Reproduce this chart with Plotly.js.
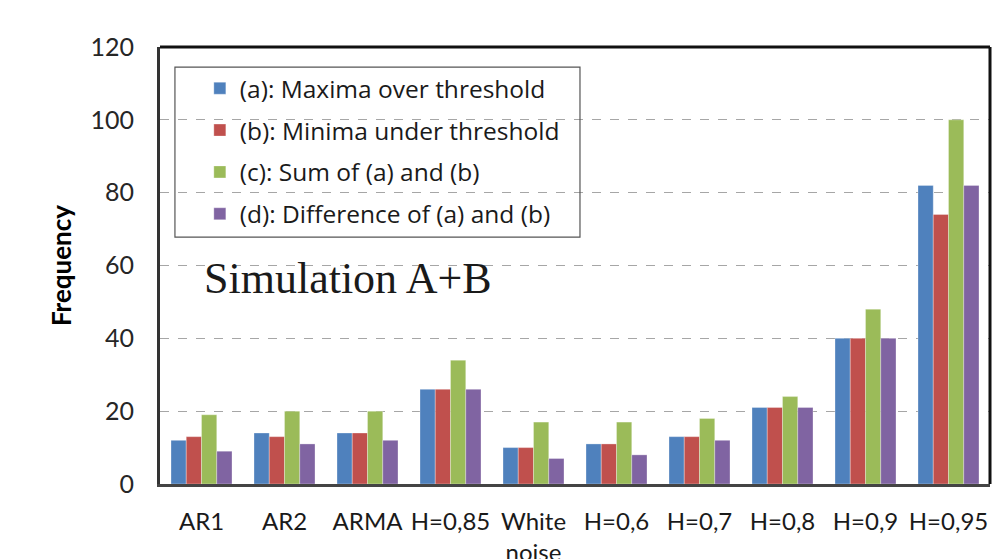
<!DOCTYPE html>
<html>
<head>
<meta charset="utf-8">
<script src="https://cdn.plot.ly/plotly-3.0.1.min.js"></script>
<style>html,body{margin:0;padding:0;background:#fff;}#chart{width:1002px;height:559px;}</style>
</head>
<body>
<div id="chart"></div>
<script>
const categories = ["AR1", "AR2", "ARMA", "H=0,85", "White<br>noise", "H=0,6", "H=0,7", "H=0,8", "H=0,9", "H=0,95"];
const seriesNames = ["(a): Maxima over threshold", "(b): Minima under threshold", "(c): Sum of (a) and (b)", "(d): Difference of (a) and (b)"];
const maximaA = [12, 14, 14, 26, 10, 11, 13, 21, 40, 82];
const minimaB = [13, 13, 14, 26, 10, 11, 13, 21, 40, 74];
const sumC = [19, 20, 20, 34, 17, 17, 18, 24, 48, 100];
const diffD = [9, 11, 12, 26, 7, 8, 12, 21, 40, 82];
const colors = ["#4F81BD", "#C0504D", "#9BBB59", "#8064A2"];
const yTicks = [0, 20, 40, 60, 80, 100, 120];

const allSeries = [maximaA, minimaB, sumC, diffD];
const traces = allSeries.map((vals, i) => ({
  type: "bar",
  name: seriesNames[i],
  x: categories,
  y: vals,
  legendgroup: "g" + i,
  marker: {color: colors[i], line: {color: "rgba(255,255,255,0.5)", width: 0.6}},
  hoverinfo: "x+y+name"
}));

const layout = {
  width: 1002, height: 559,
  margin: {l: 160, r: 12, t: 47, b: 75},
  paper_bgcolor: "#fff", plot_bgcolor: "#fff",
  font: {family: "Lato, sans-serif", color: "#262626"},
  barmode: "group", bargap: 0.265, bargroupgap: 0,
  showlegend: true,
  legend: {
    x: 0.048, y: 0.957, xanchor: "left", yanchor: "top",
    bgcolor: "rgba(0,0,0,0)", borderwidth: 0,
    font: {family: "Open Sans, sans-serif", size: 24.5, color: "#1a1a1a"},
    traceorder: "grouped", tracegroupgap: 7, itemwidth: 30
  },
  xaxis: {
    type: "category",
    showline: true, linecolor: "#444", linewidth: 3, mirror: false,
    ticks: "", tickfont: {size: 24, color: "#1a1a1a"}, ticklabelstandoff: 14,
    showgrid: false, automargin: false
  },
  yaxis: {
    range: [0, 120], tickvals: yTicks, ticktext: yTicks.map(String),
    showline: true, linecolor: "#333", linewidth: 3, mirror: false,
    ticks: "", ticklen: 0, tickfont: {size: 25, color: "#262626"}, ticklabelstandoff: 18,
    showgrid: true, gridcolor: "#a6a6a6", griddash: "dash", gridwidth: 1,
    zeroline: false, automargin: false,
    title: {text: "<b>Frequency</b>", font: {size: 26, color: "#000"}, standoff: 12}
  },
  shapes: [
    {type: "line", xref: "paper", yref: "paper", x0: 0, x1: 1, y0: 1, y1: 1, line: {color: "#111", width: 3}},
    {type: "line", xref: "paper", yref: "paper", x0: 1, x1: 1, y0: 0, y1: 1, line: {color: "#111", width: 3}},
    {type: "rect", xref: "paper", yref: "paper", x0: 0.018, x1: 0.506, y0: 0.565, y1: 0.954, line: {color: "#555", width: 1.2}, fillcolor: "rgba(0,0,0,0)"}
  ],
  annotations: [
    {text: "Simulation A+B", xref: "paper", yref: "paper", x: 0.05, y: 0.47, xanchor: "left", yanchor: "middle", showarrow: false,
     font: {family: "Liberation Serif, serif", size: 44, color: "#1a1a1a"}}
  ]
};

Plotly.newPlot("chart", traces, layout, {displayModeBar: false, staticPlot: true});
</script>
</body>
</html>
